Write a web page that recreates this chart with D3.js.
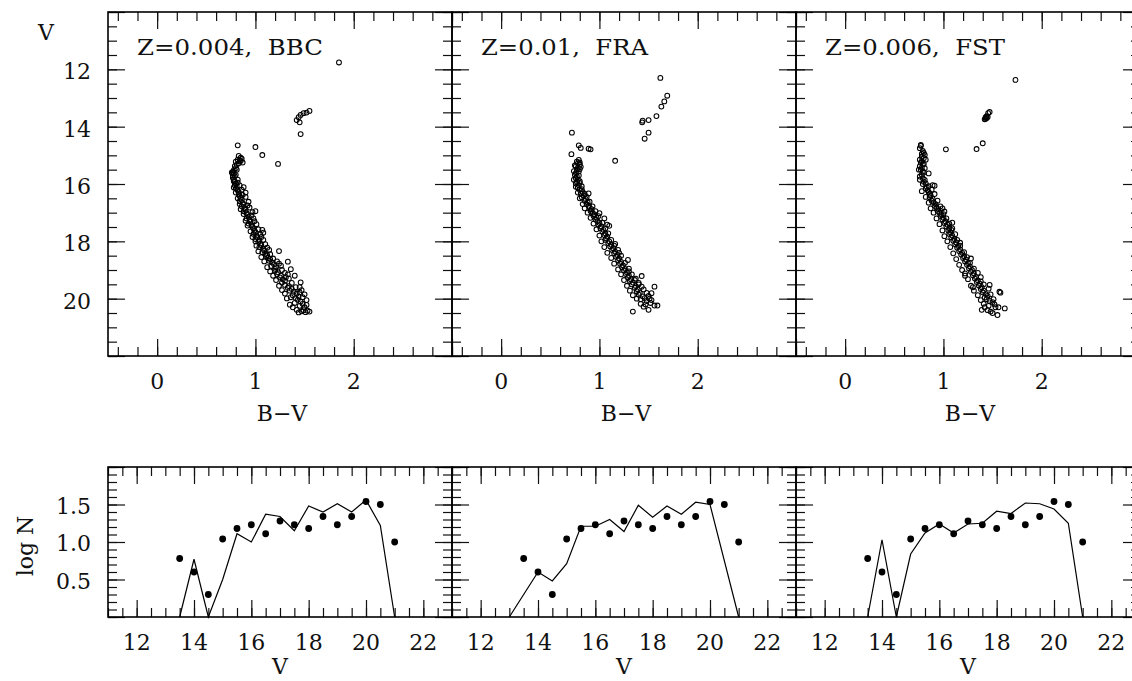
<!DOCTYPE html>
<html><head><meta charset="utf-8">
<script src="https://cdn.jsdelivr.net/npm/d3@7"></script>
<style>
html,body{margin:0;padding:0;background:#fff;}
svg{display:block;}
text{font-family:"DejaVu Serif","Liberation Serif",serif;fill:#111;}
</style></head>
<body>
<svg id="c" width="1132" height="681"></svg>
<script>
// ---------- DATA ----------
const panelNames = ["Z=0.004,  BBC", "Z=0.01,  FRA", "Z=0.006,  FST"];
const bvTicks = [0, 1, 2];
const vTicksTop = [12, 14, 16, 18, 20];
const vTicksBottom = [12, 14, 16, 18, 20, 22];
const logNTicks = [0.5, 1.0, 1.5];

// CMD points [B-V, V]
const cmdBBC = [
[1.85,11.76],[1.42,13.77],[1.44,13.67],[1.46,13.59],[1.49,13.53],[1.52,13.51],[1.55,13.45],[1.45,13.85],[1.46,14.26],
[0.82,14.65],[1.00,14.71],[1.07,14.99],[1.23,15.30],
[0.83,15.02],[0.85,15.08],[0.86,15.12],[0.82,15.15],[0.84,15.18],[0.80,15.22],[0.87,15.25],[0.83,15.28],[0.81,15.33],[0.85,15.20],
[0.79,15.38],[0.80,15.45],[0.78,15.52],[0.77,15.58],[0.78,15.63],[0.80,15.68],[0.79,15.73],[0.77,15.78],[0.81,15.50],[0.82,15.85],
[0.78,15.85],[0.79,15.92],[0.80,15.98],[0.79,16.04],[0.81,16.10],[0.80,16.16],[0.82,16.22],[0.88,16.11],[0.90,16.30],[0.83,16.28],
[0.83,16.35],[0.84,16.42],[0.85,16.48],[0.86,16.55],[0.84,16.60],[0.93,16.62],[0.87,16.66],[0.88,16.72],[0.86,16.78],[0.89,16.84],[0.90,16.90],[0.88,16.95],[1.00,16.95],[0.97,16.98],
[0.91,17.02],[0.92,17.08],[0.93,17.14],[0.91,17.20],[0.94,17.26],[0.95,17.32],[0.93,17.38],[0.96,17.44],[0.97,17.50],[0.99,17.30],
[0.98,17.55],[1.07,17.60],[0.99,17.62],[1.00,17.68],[0.98,17.74],[1.01,17.80],[1.02,17.86],[1.00,17.92],[1.04,17.97],[1.08,17.70],[1.06,17.85],
[1.03,18.02],[1.05,18.08],[1.06,18.14],[1.04,18.20],[1.08,18.26],[1.09,18.32],[1.07,18.38],[1.10,18.44],[1.12,18.48],[1.24,18.34],[1.14,18.30],
[1.11,18.52],[1.13,18.58],[1.15,18.62],[1.14,18.68],[1.17,18.74],[1.19,18.80],[1.16,18.86],[1.21,18.90],[1.20,18.96],[1.33,18.71],[1.36,18.97],[1.24,18.78],[1.26,18.85],
[1.20,19.02],[1.23,19.08],[1.22,19.14],[1.26,19.20],[1.25,19.26],[1.28,19.32],[1.30,19.38],[1.27,19.44],[1.40,19.20],[1.46,19.43],[1.33,19.15],[1.31,19.25],
[1.30,19.52],[1.34,19.56],[1.33,19.62],[1.37,19.66],[1.35,19.72],[1.39,19.76],[1.42,19.82],[1.38,19.88],[1.44,19.92],[1.41,19.98],[1.47,19.70],[1.45,19.60],[1.50,19.85],
[1.32,19.99],[1.43,20.04],[1.46,20.10],[1.52,20.05],[1.35,20.21],[1.48,20.18],[1.42,20.39],[1.50,20.30],[1.53,20.42],[1.55,20.45],[1.51,20.47],[1.47,20.44],[1.45,20.25],
[0.76,15.60],[0.77,15.70],[0.78,15.90],[0.82,15.95],[0.84,16.05],[0.78,16.12],[0.86,16.20],[0.80,16.30],[0.87,16.38],[0.82,16.50],[0.90,16.45],[0.84,16.70],[0.92,16.75],[0.85,16.88],[0.94,16.82],[0.88,17.05],[0.96,17.10],[0.90,17.28],[0.98,17.20],[0.92,17.45],[1.01,17.40],[0.95,17.65],[1.03,17.58],[0.97,17.85],[1.05,17.76],[1.00,18.00],[1.08,17.95],[1.01,18.15],[1.10,18.10],[1.03,18.35],[1.12,18.22],[1.06,18.55],[1.15,18.45],[1.09,18.70],[1.18,18.60],[1.12,18.90],[1.22,18.70],[1.15,19.05],[1.27,19.00],[1.18,19.20],[1.30,19.10],[1.21,19.35],[1.34,19.30],[1.24,19.55],[1.37,19.45],[1.27,19.70],[1.41,19.60],[1.30,19.82],[1.45,19.78],[1.36,19.95],[1.48,19.95],[1.40,20.15],[1.49,20.40],[1.38,20.30],[1.44,20.48],[1.52,20.22]
];
const cmdFRA = [
[1.62,12.30],[1.69,12.92],[1.66,13.12],[1.63,13.30],[1.58,13.63],[1.44,13.79],[1.435,13.85],[1.50,13.77],[1.50,14.21],[1.46,14.42],
[0.72,14.21],[0.79,14.65],[0.81,14.74],[0.89,14.77],[0.91,14.79],[0.715,14.96],[1.16,15.19],
[0.79,15.16],[0.77,15.22],[0.78,15.28],[0.80,15.32],[0.76,15.38],[0.78,15.44],[0.77,15.50],[0.79,15.56],[0.81,15.40],[0.80,15.25],
[0.76,15.62],[0.75,15.68],[0.77,15.74],[0.76,15.80],[0.78,15.86],[0.77,15.92],[0.76,15.98],[0.79,16.04],[0.80,15.90],[0.82,16.08],
[0.78,16.12],[0.80,16.20],[0.83,16.28],[0.81,16.34],[0.89,16.33],[0.84,16.40],[0.82,16.46],[0.86,16.52],[0.85,16.58],[0.88,16.64],[0.87,16.70],
[0.89,16.76],[0.90,16.82],[0.92,16.88],[0.91,16.94],[1.00,17.02],[0.93,17.00],[0.95,17.06],[0.94,17.12],[0.97,17.18],[0.96,17.24],[1.05,17.20],[1.10,17.46],[1.08,17.42],
[0.98,17.30],[1.00,17.36],[0.99,17.42],[1.02,17.48],[1.01,17.54],[1.04,17.60],[1.03,17.66],[1.06,17.72],[1.05,17.78],[1.08,17.84],[1.07,17.90],
[1.06,17.95],[1.16,18.09],[1.10,18.00],[1.09,18.06],[1.12,18.12],[1.11,18.18],[1.14,18.24],[1.13,18.30],[1.16,18.36],[1.15,18.42],[1.18,18.48],[1.20,18.40],
[1.17,18.54],[1.20,18.60],[1.29,18.65],[1.19,18.66],[1.22,18.72],[1.21,18.78],[1.24,18.84],[1.23,18.90],[1.26,18.96],[1.25,19.02],[1.28,19.08],[1.30,18.95],
[1.27,19.14],[1.30,19.20],[1.43,19.21],[1.29,19.26],[1.32,19.32],[1.36,19.35],[1.31,19.38],[1.34,19.44],[1.33,19.50],[1.37,19.56],[1.43,19.58],[1.56,19.58],[1.40,19.45],
[1.36,19.62],[1.39,19.68],[1.38,19.74],[1.41,19.80],[1.53,19.81],[1.40,19.86],[1.44,19.92],[1.46,19.98],[1.50,19.90],[1.42,20.02],[1.48,20.08],[1.56,20.24],[1.59,20.24],[1.50,20.39],[1.45,20.28],[1.34,20.45],[1.52,20.15],
[0.75,15.35],[0.80,15.48],[0.74,15.55],[0.79,15.70],[0.74,15.85],[0.80,15.96],[0.76,16.10],[0.82,16.18],[0.78,16.30],[0.85,16.35],[0.80,16.50],[0.87,16.45],[0.83,16.70],[0.90,16.62],[0.85,16.85],[0.93,16.78],[0.88,17.00],[0.96,16.95],[0.91,17.18],[0.99,17.12],[0.94,17.38],[1.03,17.35],[0.97,17.58],[1.06,17.55],[1.00,17.80],[1.09,17.72],[1.02,18.00],[1.12,17.95],[1.05,18.20],[1.15,18.15],[1.08,18.40],[1.19,18.30],[1.12,18.58],[1.22,18.50],[1.15,18.78],[1.26,18.75],[1.19,18.98],[1.30,19.05],[1.22,19.15],[1.33,19.15],[1.25,19.35],[1.37,19.30],[1.28,19.55],[1.40,19.50],[1.31,19.72],[1.45,19.68],[1.34,19.88],[1.48,19.80],[1.38,20.00],[1.51,20.00],[1.42,20.18],[1.47,20.20],[1.53,20.05]
];
const cmdFST = [
[1.733,12.37],[1.43,13.67],[1.44,13.63],[1.455,13.53],[1.47,13.49],[1.43,13.72],[1.44,13.70],[1.42,13.74],[1.45,13.66],[1.40,14.58],[1.337,14.78],[1.025,14.79],
[0.77,14.64],[0.77,14.67],[0.79,14.85],[0.80,14.92],[0.81,14.99],[0.78,15.05],[0.80,15.10],[0.82,15.15],
[0.78,15.20],[0.77,15.26],[0.79,15.32],[0.76,15.38],[0.78,15.44],[0.77,15.50],[0.79,15.56],[0.80,15.60],[0.85,15.63],[0.76,15.74],[0.78,15.68],
[0.79,15.80],[0.81,15.86],[0.80,15.92],[0.82,15.98],[0.91,16.06],[0.89,16.04],[0.83,16.10],[0.82,16.16],[0.84,16.22],[0.85,16.28],[0.86,16.34],
[0.87,16.40],[0.86,16.46],[0.89,16.52],[0.88,16.58],[0.90,16.64],[0.92,16.70],[0.91,16.76],[0.93,16.82],[0.95,16.88],[0.94,16.94],[1.01,16.96],[0.99,16.85],
[0.96,17.00],[0.98,17.06],[0.97,17.12],[1.00,17.18],[0.99,17.24],[1.02,17.30],[1.01,17.36],[1.04,17.42],[1.03,17.48],[1.06,17.54],[1.08,17.60],[1.09,17.35],
[1.05,17.62],[1.07,17.68],[1.06,17.74],[1.09,17.80],[1.08,17.86],[1.11,17.92],[1.10,17.98],[1.13,18.04],[1.12,18.10],[1.15,18.16],[1.17,18.05],
[1.14,18.22],[1.17,18.28],[1.16,18.34],[1.19,18.40],[1.18,18.46],[1.21,18.52],[1.20,18.58],[1.23,18.64],[1.22,18.70],[1.25,18.76],[1.28,18.60],
[1.24,18.82],[1.27,18.88],[1.26,18.94],[1.29,19.00],[1.28,19.06],[1.31,19.12],[1.30,19.18],[1.33,19.24],[1.32,19.30],[1.35,19.36],[1.38,19.25],[1.22,19.20],
[1.34,19.42],[1.37,19.48],[1.47,19.52],[1.36,19.54],[1.39,19.60],[1.38,19.66],[1.41,19.72],[1.58,19.79],[1.57,19.76],[1.40,19.78],[1.43,19.84],[1.45,19.90],[1.30,19.60],[1.42,19.96],
[1.44,20.02],[1.47,20.08],[1.50,20.12],[1.39,20.39],[1.46,20.25],[1.52,20.20],[1.624,20.34],[1.55,20.57],[1.48,20.45],[1.53,20.30],[1.42,20.30],
[0.76,14.75],[0.78,14.95],[0.76,15.15],[0.80,15.30],[0.75,15.50],[0.81,15.45],[0.76,15.85],[0.79,16.00],[0.85,16.08],[0.78,16.25],[0.88,16.20],[0.82,16.45],[0.91,16.35],[0.85,16.65],[0.94,16.58],[0.87,16.85],[0.97,16.78],[0.90,17.00],[1.00,17.05],[0.93,17.20],[1.03,17.20],[0.96,17.40],[1.06,17.38],[0.99,17.62],[1.09,17.55],[1.01,17.82],[1.12,17.75],[1.04,18.00],[1.14,17.95],[1.07,18.20],[1.17,18.15],[1.10,18.42],[1.21,18.38],[1.13,18.62],[1.24,18.55],[1.16,18.82],[1.27,18.75],[1.19,19.00],[1.31,18.95],[1.22,19.12],[1.35,19.10],[1.25,19.32],[1.38,19.40],[1.28,19.55],[1.41,19.50],[1.31,19.72],[1.46,19.65],[1.35,19.88],[1.48,19.85],[1.38,20.05],[1.51,20.02],[1.41,20.18],[1.56,20.30],[1.45,20.40],[1.50,20.50]
];

// Luminosity functions: observed (dots) and models (lines)
const lfV = [13.5,14,14.5,15,15.5,16,16.5,17,17.5,18,18.5,19,19.5,20,20.5,21];
const lfObs = [0.78,0.60,0.30,1.04,1.18,1.23,1.11,1.28,1.23,1.18,1.34,1.23,1.34,1.54,1.50,1.00];
const modelBBCV = [13.5,14,14.5,15,15.5,16,16.5,17,17.5,18,18.5,19,19.5,20,20.5,21];
const modelBBC  = [0,0.77,0,0.50,1.11,1.00,1.37,1.34,1.15,1.48,1.40,1.51,1.40,1.56,1.22,0];
const modelFRAV = [13,14,14.5,15,15.5,16,16.5,17,17.5,18,18.5,19,19.5,20,21];
const modelFRA  = [0,0.60,0.48,0.71,1.21,1.21,1.30,1.14,1.49,1.33,1.48,1.37,1.53,1.50,0];
const modelFSTV = [13.5,14,14.5,15,15.5,16,16.5,17,17.5,18,18.5,19,19.5,20,20.5,21];
const modelFST  = [0,1.03,0,0.84,1.12,1.24,1.12,1.24,1.25,1.41,1.38,1.52,1.51,1.44,1.25,0];

// ---------- LAYOUT ----------
const lefts = [108, 452, 796];
const pw = 344;
const topY = [12, 356];
const botY = [467, 617];
const cmds = [cmdBBC, cmdFRA, cmdFST];
const models = [[modelBBCV, modelBBC], [modelFRAV, modelFRA], [modelFSTV, modelFST]];

const svg = d3.select("#c");
const fs = 22;
const MAJ = 17, MIN = 9;

function range(a, b, s) { const r = []; for (let v = a; v <= b + 1e-9; v += s) r.push(+v.toFixed(4)); return r; }

function frameTicks(g, x, y, xMajor, xMinor, yMajor, yMinor, x0, x1, y0, y1) {
  const st = (sel) => sel.call(s => s.select(".domain").remove())
    .call(s => s.selectAll("line").attr("stroke", "#111").attr("stroke-width", 1.2));
  g.append("g").attr("transform", `translate(0,${y1})`).call(d3.axisBottom(x).tickValues(xMinor).tickSize(-MIN).tickFormat("")).call(st);
  g.append("g").attr("transform", `translate(0,${y1})`).call(d3.axisBottom(x).tickValues(xMajor).tickSize(-MAJ).tickFormat("")).call(st);
  g.append("g").attr("transform", `translate(0,${y0})`).call(d3.axisTop(x).tickValues(xMinor).tickSize(-MIN).tickFormat("")).call(st);
  g.append("g").attr("transform", `translate(0,${y0})`).call(d3.axisTop(x).tickValues(xMajor).tickSize(-MAJ).tickFormat("")).call(st);
  g.append("g").attr("transform", `translate(${x0},0)`).call(d3.axisLeft(y).tickValues(yMinor).tickSize(-MIN).tickFormat("")).call(st);
  g.append("g").attr("transform", `translate(${x0},0)`).call(d3.axisLeft(y).tickValues(yMajor).tickSize(-MAJ).tickFormat("")).call(st);
  g.append("g").attr("transform", `translate(${x1},0)`).call(d3.axisRight(y).tickValues(yMinor).tickSize(-MIN).tickFormat("")).call(st);
  g.append("g").attr("transform", `translate(${x1},0)`).call(d3.axisRight(y).tickValues(yMajor).tickSize(-MAJ).tickFormat("")).call(st);
  g.append("rect").attr("x", x0).attr("y", y0).attr("width", x1 - x0).attr("height", y1 - y0)
    .attr("fill", "none").attr("stroke", "#000").attr("stroke-width", 1.6);
}

const labelWidths = [186, 167, 180];

lefts.forEach((L, i) => {
  // ---- top CMD panel ----
  const x = d3.scaleLinear().domain([-0.5, 3]).range([L, L + pw]);
  const y = d3.scaleLinear().domain([10, 22]).range([topY[0], topY[1]]);
  const g = svg.append("g");
  frameTicks(g, x, y, [0, 1, 2, 3], range(-0.4, 3, 0.2),
    range(10, 22, 2), range(10, 22, 0.5), L, L + pw, topY[0], topY[1]);
  g.append("g").selectAll("circle").data(cmds[i]).join("circle")
    .attr("cx", d => x(d[0])).attr("cy", d => y(d[1])).attr("r", 2.4)
    .attr("fill", "none").attr("stroke", "#000").attr("stroke-width", 1.05);
  g.append("text").attr("x", L + 29).attr("y", 55).attr("font-size", 23)
    .attr("textLength", labelWidths[i]).attr("lengthAdjust", "spacingAndGlyphs")
    .style("white-space", "pre").text(panelNames[i]);
  g.selectAll(".bvl").data(bvTicks).join("text")
    .attr("x", d => x(d)).attr("y", 389).attr("text-anchor", "middle").attr("font-size", fs).text(d => d);
  g.append("text").attr("x", L + pw / 2 + 2).attr("y", 421).attr("text-anchor", "middle").attr("font-size", fs).text("B\u2212V");
  if (i === 0) {
    g.selectAll(".vl").data(vTicksTop).join("text")
      .attr("x", 91).attr("y", d => y(d) + 10).attr("text-anchor", "end").attr("font-size", fs).text(d => d);
    g.append("text").attr("x", 46).attr("y", 40).attr("text-anchor", "middle").attr("font-size", fs).text("V");
  }

  // ---- bottom LF panel ----
  const xb = d3.scaleLinear().domain([11, 23]).range([L, L + pw]);
  const yb = d3.scaleLinear().domain([0, 2]).range([botY[1], botY[0]]);
  const gb = svg.append("g");
  frameTicks(gb, xb, yb, range(12, 22, 2), range(11, 23, 0.5), range(0, 2, 0.5), range(0, 2, 0.1), L, L + pw, botY[0], botY[1]);
  const [mv, ml] = models[i];
  const line = d3.line().x((d, k) => xb(mv[k])).y(d => yb(d));
  gb.append("path").attr("d", line(ml)).attr("fill", "none").attr("stroke", "#000").attr("stroke-width", 1.2);
  gb.append("g").selectAll("circle").data(lfObs).join("circle")
    .attr("cx", (d, k) => xb(lfV[k])).attr("cy", d => yb(d)).attr("r", 3.4).attr("fill", "#000");
  gb.selectAll(".vb").data(vTicksBottom).join("text")
    .attr("x", d => xb(d)).attr("y", 650).attr("text-anchor", "middle").attr("font-size", fs).text(d => d);
  gb.append("text").attr("x", L + pw / 2).attr("y", 674).attr("text-anchor", "middle").attr("font-size", fs).text("V");
  if (i === 0) {
    gb.selectAll(".ln").data(logNTicks).join("text")
      .attr("x", 91).attr("y", d => yb(d) + 9).attr("text-anchor", "end").attr("font-size", fs).text(d => d.toFixed(1));
    gb.append("text").attr("transform", "translate(33,546) rotate(-90)").attr("text-anchor", "middle")
      .attr("font-size", fs).text("log N");
  }
});
</script>
</body></html>
